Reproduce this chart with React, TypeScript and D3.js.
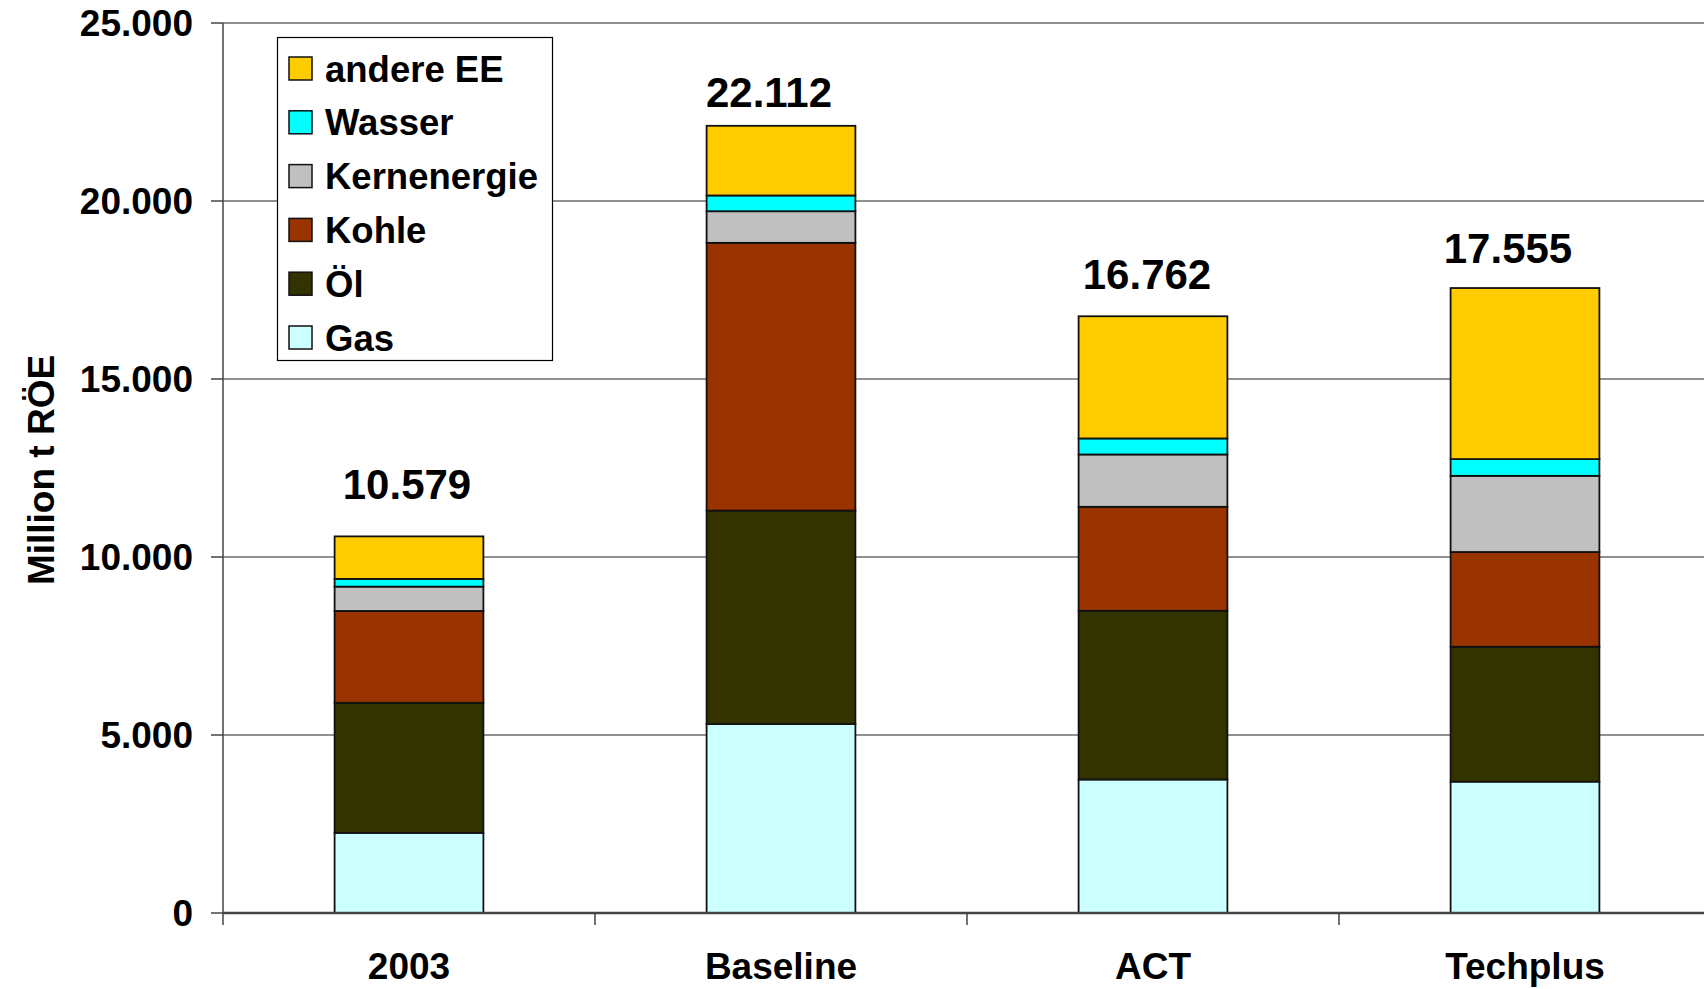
import React from 'react';
import * as d3 from 'd3';

// Primärenergie nach Szenario, Million t RÖE
const categories = ['2003', 'Baseline', 'ACT', 'Techplus'];
const seriesKeys = ['Gas', 'Öl', 'Kohle', 'Kernenergie', 'Wasser', 'andere EE'];

const gas = [2250, 5306, 3750, 3690];
const oel = [3655, 5999, 4740, 3790];
const kohle = [2579, 7520, 2920, 2660];
const kern = [684, 888, 1470, 2140];
const wasser = [216, 442, 450, 470];
const andereEE = [1195, 1957, 3432, 4805];
const totals = [10579, 22112, 16762, 17555];

const yTicks = [0, 5000, 10000, 15000, 20000, 25000];

const colors: Record<string, string> = {
  'Gas': '#CCFFFF',
  'Öl': '#333300',
  'Kohle': '#993300',
  'Kernenergie': '#C0C0C0',
  'Wasser': '#00FFFF',
  'andere EE': '#FFCC00',
};

// hand-placed total labels in the original, small nudges [dx, dy]
const labelNudge = [[-2, -37], [-12, -19], [-6, -27], [-17, -25]];

const W = 1704;
const H = 989;
const FONT = '"Liberation Sans", Arial, Helvetica, sans-serif';

const App: React.FC = () => {
  const left = 223;
  const step = 372;
  const x = d3.scaleBand<string>()
    .domain(categories)
    .range([left, left + step * categories.length])
    .paddingInner(0.6)
    .paddingOuter(0.3);
  const y = d3.scaleLinear().domain([0, 25000]).range([913, 23]);

  const rows = categories.map((c, i) => ({
    cat: c,
    'Gas': gas[i],
    'Öl': oel[i],
    'Kohle': kohle[i],
    'Kernenergie': kern[i],
    'Wasser': wasser[i],
    'andere EE': andereEE[i],
  }));
  const stacked = d3.stack<any>().keys(seriesKeys)(rows);

  const fmt = (v: number) => d3.format(',')(v).replace(/,/g, '.');

  const legendOrder = [...seriesKeys].reverse();

  return (
    <svg width={W} height={H} style={{ position: 'fixed', left: 0, top: 0, background: '#fff' }}
      fontFamily={FONT} fontWeight="bold">
      <rect x={0} y={0} width={W} height={H} fill="#fff" />
      {/* gridlines */}
      {yTicks.filter(t => t > 0).map(t => (
        <line key={t} x1={left} x2={W} y1={y(t)} y2={y(t)} stroke="#222" strokeWidth={1} />
      ))}
      {/* y axis */}
      <line x1={left} x2={left} y1={y(25000)} y2={y(0)} stroke="#444" strokeWidth={1.5} />
      {yTicks.map(t => (
        <g key={'t' + t}>
          <line x1={left - 12} x2={left} y1={y(t)} y2={y(t)} stroke="#444" strokeWidth={1.5} />
          <text x={193} y={y(t)} dy="0.36em" textAnchor="end" fontSize={37} fill="#000">{fmt(t)}</text>
        </g>
      ))}
      <text transform={`translate(54, 470) rotate(-90)`} textAnchor="middle" fontSize={37} fill="#000">
        Million t RÖE
      </text>
      {/* bars */}
      {stacked.map(s => (
        <g key={s.key}>
          {s.map((d, i) => (
            <rect key={i}
              x={x(categories[i])!}
              width={x.bandwidth()}
              y={y(d[1])}
              height={y(d[0]) - y(d[1])}
              fill={colors[s.key]}
              stroke="#111"
              strokeWidth={1.8} />
          ))}
        </g>
      ))}
      {/* x axis */}
      <line x1={left} x2={W} y1={y(0)} y2={y(0)} stroke="#444" strokeWidth={2.5} />
      {d3.range(categories.length + 1).map(i => (
        <line key={'c' + i} x1={left + i * step} x2={left + i * step} y1={y(0)} y2={y(0) + 12}
          stroke="#444" strokeWidth={1.5} />
      ))}
      {categories.map(c => (
        <text key={'l' + c} x={x(c)! + x.bandwidth() / 2} y={979} textAnchor="middle" fontSize={37} fill="#000">
          {c}
        </text>
      ))}
      {/* totals */}
      {categories.map((c, i) => (
        <text key={'v' + c}
          x={x(c)! + x.bandwidth() / 2 + labelNudge[i][0]}
          y={y(totals[i]) + labelNudge[i][1]}
          textAnchor="middle" fontSize={42} fill="#000">
          {fmt(totals[i])}
        </text>
      ))}
      {/* legend */}
      <g>
        <rect x={277.5} y={37.5} width={275} height={323} fill="#fff" stroke="#000" strokeWidth={1.2} />
        {legendOrder.map((k, i) => {
          const cy = 68.5 + i * 53.8;
          return (
            <g key={'lg' + k}>
              <rect x={289} y={cy - 11.5} width={23} height={23} fill={colors[k]} stroke="#111" strokeWidth={1.5} />
              <text x={325} y={cy} dy="0.36em" fontSize={36.5} fill="#000">{k}</text>
            </g>
          );
        })}
      </g>
    </svg>
  );
};

export default App;
